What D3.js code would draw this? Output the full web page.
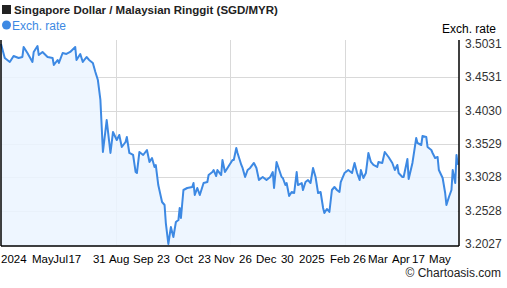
<!DOCTYPE html>
<html>
<head>
<meta charset="utf-8">
<script src="https://cdn.jsdelivr.net/npm/d3@7"></script>
<style>
  body { margin: 0; background: #fff; }
  svg { display: block; font-family: "Liberation Sans", Arial, sans-serif; }
</style>
</head>
<body>
<div id="chart"></div>
<script>
// days since 2024-05-10 and SGD/MYR rate
const days = [0, 3, 7, 10, 14, 17, 18, 21, 25, 26, 29, 30, 33, 37, 41, 42, 45, 46, 49, 52, 55, 59, 60, 63, 65, 68, 70, 73, 75, 77,
  79, 81, 84, 87, 89, 92, 94, 96, 99, 100, 102, 105, 107, 108, 110, 113, 116, 118, 120, 122, 123, 125, 128, 130, 131, 133, 135, 137, 139, 141,
  142, 143, 145, 148, 152, 153, 154, 156, 158, 161, 164, 165, 168, 169, 171, 172, 175, 176, 178, 180, 184, 185, 187, 188, 191, 192, 194, 196, 198, 201,
  203, 205, 208, 211, 214, 216, 217, 219, 223, 224, 226, 227, 229, 231, 233, 235, 236, 239, 240, 242, 244, 246, 248, 250, 252, 254, 256, 257, 259, 261,
  263, 265, 267, 269, 270, 273, 276, 279, 281, 283, 285, 286, 288, 290, 292, 294, 296, 299, 300, 303, 305, 308, 311, 313, 315, 316, 319, 320, 323, 324,
  327, 330, 331, 334, 335, 338, 339, 342, 343, 345, 347, 348, 351, 353, 354, 356, 358, 359, 361, 362, 363];
const rates = [3.5031, 3.4821, 3.4761, 3.4851, 3.4821, 3.4836, 3.4986, 3.4896, 3.4761, 3.4911, 3.5001, 3.4866, 3.4911, 3.4836, 3.4821, 3.4716, 3.4791, 3.4746, 3.4896, 3.4881, 3.4911, 3.4986, 3.4791, 3.4881, 3.4761, 3.4836, 3.4791, 3.4746, 3.4610, 3.4490,
  3.4190, 3.3409, 3.3889, 3.3394, 3.3709, 3.3589, 3.3664, 3.3484, 3.3559, 3.3634, 3.3394, 3.3364, 3.3108, 3.3093, 3.3409, 3.3364, 3.3439, 3.3259, 3.3319, 3.3184, 3.3214, 3.2913, 3.2658, 3.2613, 3.2342, 3.2027, 3.2282, 3.2132, 3.2357, 3.2387,
  3.2568, 3.2418, 3.2838, 3.2868, 3.2883, 3.2943, 3.2763, 3.2868, 3.2763, 3.2943, 3.2958, 3.3063, 3.3108, 3.3138, 3.3048, 3.3138, 3.3063, 3.3289, 3.3108, 3.3169, 3.3289, 3.3289, 3.3469, 3.3394, 3.3214, 3.3169, 3.3033, 3.3138, 3.3169, 3.3244,
  3.3169, 3.2988, 3.3033, 3.2988, 3.3033, 3.3108, 3.2868, 3.3259, 3.3033, 3.3018, 3.2913, 3.2943, 3.2748, 3.2808, 3.2793, 3.3108, 3.2913, 3.2943, 3.2838, 3.2958, 3.2988, 3.2943, 3.3169, 3.3033, 3.2793, 3.2808, 3.2568, 3.2493, 3.2553, 3.2508,
  3.2838, 3.2883, 3.2838, 3.2808, 3.2958, 3.3093, 3.3138, 3.3093, 3.3244, 3.3093, 3.2988, 3.3138, 3.3018, 3.3093, 3.3394, 3.3259, 3.3214, 3.3184, 3.3259, 3.3244, 3.3409, 3.3334, 3.3244, 3.3138, 3.3214, 3.3093, 3.3033, 3.3033, 3.3304, 3.3003,
  3.3244, 3.3619, 3.3544, 3.3514, 3.3649, 3.3634, 3.3484, 3.3439, 3.3394, 3.3319, 3.3334, 3.3138, 3.3018, 3.2793, 3.2613, 3.2733, 3.2838, 3.3138, 3.2943, 3.3364, 3.3214];

const yTicks = [3.2027, 3.2528, 3.3028, 3.3529, 3.4030, 3.4531, 3.5031];
const xTickLabels = ["2024", "May", "Jul", "17", "31", "Aug", "Sep", "23", "Oct", "23", "Nov", "26", "Dec", "30", "2025", "Feb", "26", "Mar", "Apr", "17", "May"];
// day on which each label starts
const xTickDays = [0, 24.6, 41.6, 53.6, 73.1, 85.8, 104.9, 124.0, 138.3, 156.6, 169.3, 189.2, 202.7, 222.5, 236.9, 261.5, 279.8, 291.7, 310.8, 326.7, 340.2];

const width = 507, height = 288;
const plot = { left: 1, right: 459, top: 40, bottom: 246 };
const lineColor = "#3d89e3";

const data = days.map((d, i) => ({ day: d, rate: rates[i] }));

const x = d3.scaleLinear().domain([0, 364]).range([plot.left, plot.right]);
const y = d3.scaleLinear().domain([3.2027, 3.5031]).range([244, 44]);

const svg = d3.select("#chart").append("svg")
  .attr("width", width)
  .attr("height", height);

// grid
const grid = svg.append("g").attr("stroke", "#d9d9d9").attr("stroke-width", 1);
grid.selectAll("line.h")
  .data(yTicks.slice(1, -1))
  .join("line")
  .attr("class", "h")
  .attr("x1", plot.left).attr("x2", plot.right)
  .attr("y1", d => Math.round(y(d)) + 0.5)
  .attr("y2", d => Math.round(y(d)) + 0.5);
grid.selectAll("line.v")
  .data([1, 2, 3].map(i => i * 364 / 4))
  .join("line")
  .attr("class", "v")
  .attr("x1", d => Math.round(x(d)) + 0.5)
  .attr("x2", d => Math.round(x(d)) + 0.5)
  .attr("y1", plot.top).attr("y2", plot.bottom);

// area + line
svg.append("path")
  .datum(data)
  .attr("fill", "#ebf5ff")
  .attr("fill-opacity", 0.85)
  .attr("d", d3.area().x(d => x(d.day)).y0(plot.bottom).y1(d => y(d.rate)));

svg.append("path")
  .datum(data)
  .attr("fill", "none")
  .attr("stroke", lineColor)
  .attr("stroke-width", 2)
  .attr("stroke-linejoin", "round")
  .attr("d", d3.line().x(d => x(d.day)).y(d => y(d.rate)));

// frame
const frame = svg.append("g").attr("stroke", "#000").attr("stroke-width", 1.5);
frame.append("line").attr("x1", plot.left).attr("x2", plot.left).attr("y1", plot.top).attr("y2", plot.bottom);
frame.append("line").attr("x1", plot.right).attr("x2", plot.right).attr("y1", plot.top).attr("y2", plot.bottom);
frame.append("line").attr("x1", plot.left).attr("x2", plot.right).attr("y1", plot.bottom).attr("y2", plot.bottom);

// right axis labels
svg.append("g")
  .selectAll("text")
  .data(yTicks)
  .join("text")
  .attr("x", 465)
  .attr("y", d => y(d) + 4)
  .attr("font-size", 12)
  .attr("fill", "#333")
  .text(d => d.toFixed(4));

svg.append("text")
  .attr("x", 496).attr("y", 33)
  .attr("text-anchor", "end")
  .attr("font-size", 12)
  .attr("fill", "#000")
  .text("Exch. rate");

// bottom labels
svg.append("g")
  .selectAll("text")
  .data(xTickLabels)
  .join("text")
  .attr("x", (d, i) => x(xTickDays[i]))
  .attr("y", 263)
  .attr("font-size", 11.5)
  .attr("fill", "#000")
  .text(d => d);

// title + legend
svg.append("rect").attr("x", 2).attr("y", 5).attr("width", 9).attr("height", 9).attr("fill", "#222");
svg.append("text")
  .attr("x", 14).attr("y", 14)
  .attr("font-size", 11.5)
  .attr("font-weight", "bold")
  .attr("fill", "#222")
  .text("Singapore Dollar / Malaysian Ringgit (SGD/MYR)");

svg.append("circle").attr("cx", 6.5).attr("cy", 25).attr("r", 4.5).attr("fill", lineColor);
svg.append("text")
  .attr("x", 12).attr("y", 29.5)
  .attr("font-size", 12)
  .attr("fill", lineColor)
  .text("Exch. rate");

svg.append("text")
  .attr("x", 501).attr("y", 277)
  .attr("text-anchor", "end")
  .attr("font-size", 12)
  .attr("fill", "#222")
  .text("© Chartoasis.com");
</script>
</body>
</html>
